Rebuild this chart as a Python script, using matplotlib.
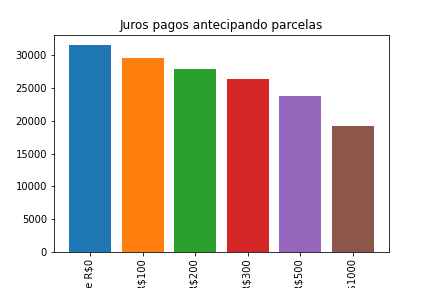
import matplotlib
matplotlib.use('Agg')
import matplotlib.pyplot as plt

# juros totais pagos para cada valor antecipado por mes
labels = ['Antecipando mensalmente R$0', 'Antecipando mensalmente R$100',
          'Antecipando mensalmente R$200', 'Antecipando mensalmente R$300',
          'Antecipando mensalmente R$500', 'Antecipando mensalmente R$1000']
juros = [31550, 29570, 27900, 26420, 23780, 19250]
cores = ['#1f77b4', '#ff7f0e', '#2ca02c', '#d62728', '#9467bd', '#8c564b']

fig = plt.figure(figsize=(6, 4), dpi=72)
plt.bar(labels, juros, color=cores)
plt.xticks(rotation=90)
plt.title('Juros pagos antecipando parcelas')
plt.subplots_adjust(bottom=0.125)
plt.savefig('out.png', dpi=72)
